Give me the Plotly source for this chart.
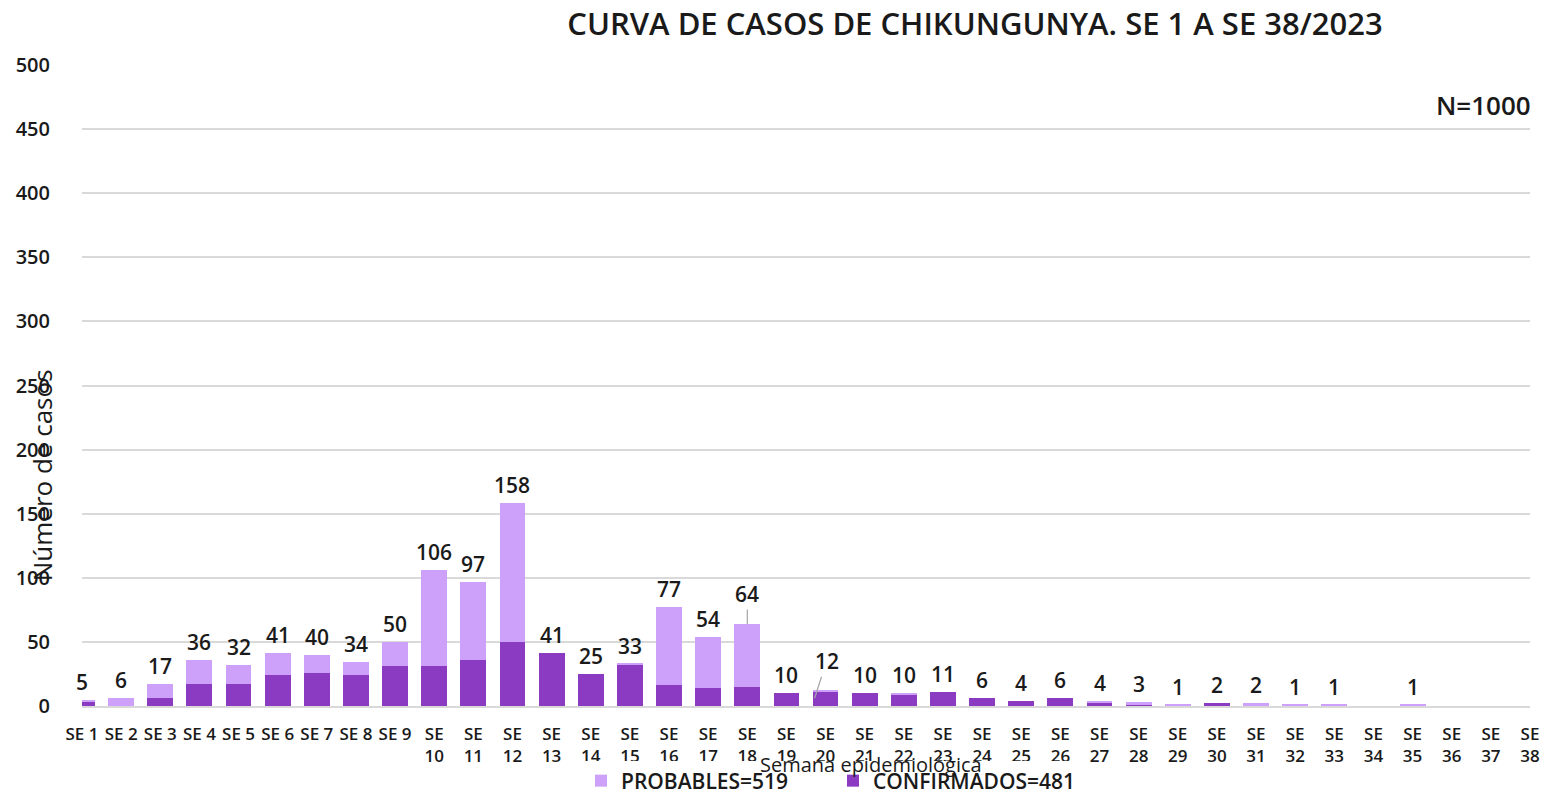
import plotly.graph_objects as go

weeks = [f"SE {i}" for i in range(1, 39)]
tick_labels = [f"SE {i}" if i < 10 else f"SE<br>{i}" for i in range(1, 39)]
confirmados = [3, 0, 6, 17, 17, 24, 26, 24, 31, 31, 36, 50, 41, 25, 32, 16, 14, 15, 10, 11,
               10, 9, 11, 6, 4, 6, 3, 1, 0, 2, 0, 0, 0, 0, 0, 0, 0, 0]
totales = [5, 6, 17, 36, 32, 41, 40, 34, 50, 106, 97, 158, 41, 25, 33, 77, 54, 64, 10, 12,
           10, 10, 11, 6, 4, 6, 4, 3, 1, 2, 2, 1, 1, 0, 1, 0, 0, 0]
probables = [t - c for t, c in zip(totales, confirmados)]

DARK = "#8A3BC1"
LIGHT = "#CDA0FA"
FONT = "Open Sans"
TXT = "#1a1a1a"

W, H = 1554, 794

fig = go.Figure()
fig.add_trace(go.Bar(x=weeks, y=confirmados, name=f"CONFIRMADOS={sum(confirmados)}",
                     marker=dict(color=DARK, line=dict(width=0))))
fig.add_trace(go.Bar(x=weeks, y=probables, name=f"PROBABLES={sum(probables)}",
                     marker=dict(color=LIGHT, line=dict(width=0))))

label_font = dict(size=21, color=TXT, family=FONT, weight=600)
annotations = []
leader = {"SE 18": (0, -30, None), "SE 20": (12, -37, 6)}
for w, t in zip(weeks, totales):
    if t == 0:
        continue
    if w in leader:
        ax, ay, yh = leader[w]
        annotations.append(dict(x=w, y=t if yh is None else yh, text=str(t), showarrow=True,
                                arrowhead=0, arrowwidth=1.2, arrowcolor="#A6A6A6",
                                ax=ax, ay=ay, font=label_font,
                                xshift=-11 if yh is not None else 0))
    else:
        annotations.append(dict(x=w, y=t, text=str(t), showarrow=False, yanchor="middle",
                                yshift=18, font=label_font))

annotations.append(dict(x=1.002, xref="paper", xanchor="right", y=469, yref="y", text="N=1000",
                        showarrow=False, font=dict(size=26, color=TXT, family=FONT, weight=600)))
annotations.append(dict(x=-0.0276, xref="paper", y=0.36, yref="paper", text="Número de casos",
                        textangle=-90, showarrow=False, xanchor="center", yanchor="middle",
                        font=dict(size=26, color=TXT, family=FONT)))
annotations.append(dict(x=0.545, xref="paper", y=-0.092, yref="paper", text="Semana epidemiológica",
                        showarrow=False, xanchor="center", yanchor="middle",
                        font=dict(size=20, color=TXT, family=FONT)))

fig.update_layout(
    barmode="stack",
    bargap=0.34,
    width=W, height=H,
    margin=dict(l=82, r=24, t=65, b=88, autoexpand=False),
    plot_bgcolor="white", paper_bgcolor="white",
    font=dict(family=FONT, color=TXT),
    title=dict(text="CURVA DE CASOS DE CHIKUNGUNYA. SE 1 A SE 38/2023",
               x=975 / W, xref="container", xanchor="center",
               y=1 - 24 / H, yref="container", yanchor="middle",
               font=dict(size=31, color=TXT, family=FONT, weight=600)),
    xaxis=dict(type="category", tickmode="array", tickvals=weeks, ticktext=tick_labels,
               range=[0, 37], showgrid=False, ticks="", showline=True, linecolor="#D9D9D9",
               linewidth=1.5, tickfont=dict(size=17, family=FONT, weight=600, color=TXT),
               ticklabelstandoff=12),
    yaxis=dict(range=[0, 500], dtick=50, showgrid=True, gridcolor="#D9D9D9", gridwidth=1.5,
               zeroline=False, ticks="", tickfont=dict(size=20, family=FONT, weight=600, color=TXT),
               ticklabelstandoff=31),
    legend=dict(orientation="h", x=581 / W, xref="container", xanchor="left",
                y=1 - 781 / H, yref="container", yanchor="middle",
                traceorder="reversed", font=dict(size=21, family=FONT, weight=600, color=TXT),
                entrywidth=207, entrywidthmode="pixels"),
    annotations=annotations,
)

fig.write_html("out.html", config={"displayModeBar": False},
               post_script="document.body.style.margin='0';document.body.style.overflow='hidden';")
